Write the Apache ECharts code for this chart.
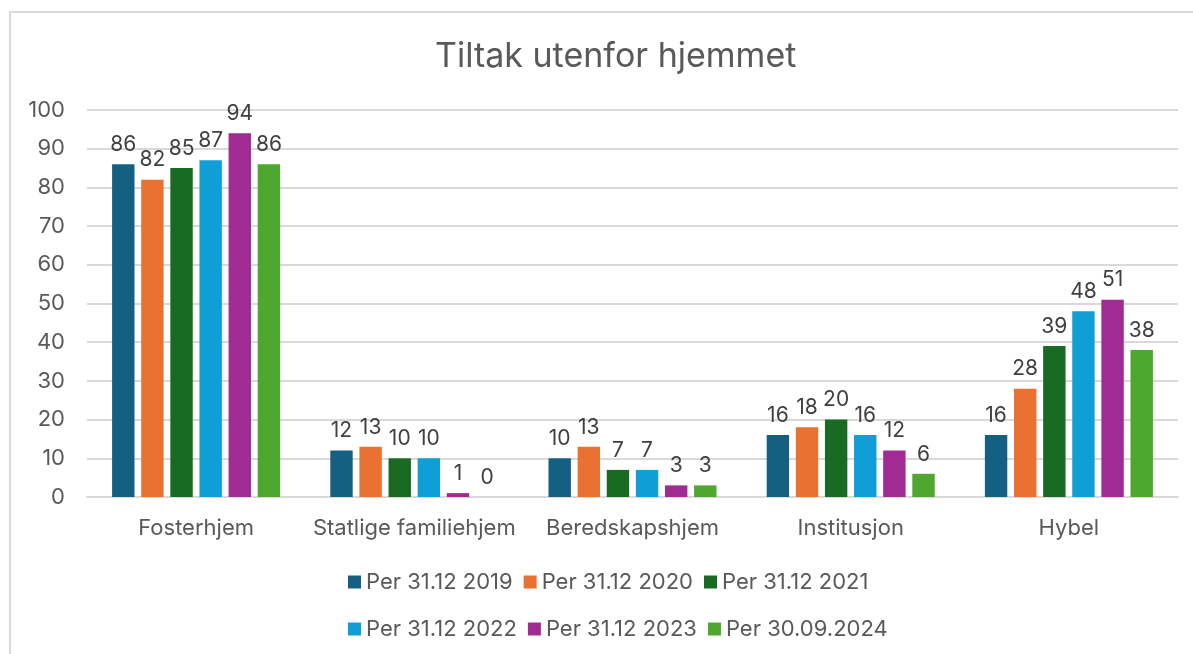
<!DOCTYPE html>
<html>
<head>
<meta charset="utf-8">
<script src="https://cdn.jsdelivr.net/npm/echarts@6/dist/echarts.min.js"></script>
<style>
  html, body { margin: 0; padding: 0; background: #fff; }
  #chart { width: 1193px; height: 654px; }
</style>
</head>
<body>
<div id="chart"></div>
<script>
// categories on the x axis
const categories = ["Fosterhjem", "Statlige familiehjem", "Beredskapshjem", "Institusjon", "Hybel"];
const seriesNames = ["Per 31.12 2019", "Per 31.12 2020", "Per 31.12 2021", "Per 31.12 2022", "Per 31.12 2023", "Per 30.09.2024"];
const colors = ["#156082", "#e97132", "#196b24", "#0f9ed5", "#a02b93", "#4ea72e"];

const per2019 = [86, 12, 10, 16, 16];
const per2020 = [82, 13, 13, 18, 28];
const per2021 = [85, 10, 7, 20, 39];
const per2022 = [87, 10, 7, 16, 48];
const per2023 = [94, 1, 3, 12, 51];
const per2024 = [86, 0, 3, 6, 38];

const values = [per2019, per2020, per2021, per2022, per2023, per2024];

const font = "Inter, 'Noto Sans', sans-serif";

var chart = echarts.init(document.getElementById("chart"));

function legendRow(names, top) {
  return {
    data: names,
    top: top,
    left: 343,
    itemWidth: 13,
    itemHeight: 13,
    itemGap: 11,
    icon: "rect",
    textStyle: { fontFamily: font, fontSize: 22, color: "#595959", padding: [0, 0, 0, 0] }
  };
}

chart.setOption({
  animation: false,
  color: colors,
  title: {
    text: "Tiltak utenfor hjemmet",
    left: 430,
    top: 35,
    textStyle: { fontFamily: font, fontSize: 34, fontWeight: "normal", color: "#595959" }
  },
  graphic: [
    {
      type: "rect",
      shape: { x: 10, y: 12, width: 1300, height: 700 },
      style: { fill: "none", stroke: "#d9d9d9", lineWidth: 2 },
      z: -1
    }
  ],
  legend: [
    legendRow(seriesNames.slice(0, 3), 566),
    legendRow(seriesNames.slice(3), 613)
  ],
  grid: {
    left: 87,
    right: 15,
    top: 110,
    bottom: 157
  },
  xAxis: {
    type: "category",
    data: categories,
    axisLine: { lineStyle: { color: "#d9d9d9", width: 2 } },
    axisTick: { show: false },
    axisLabel: { interval: 0, fontFamily: font, fontSize: 22, color: "#595959", margin: 20 }
  },
  yAxis: {
    type: "value",
    min: 0,
    max: 100,
    interval: 10,
    axisLine: { show: false },
    axisTick: { show: false },
    splitLine: { lineStyle: { color: "#d9d9d9", width: 2 } },
    axisLabel: { fontFamily: font, fontSize: 22, color: "#595959", margin: 22 }
  },
  series: seriesNames.map(function (name, i) {
    return {
      name: name,
      type: "bar",
      data: values[i],
      barGap: "30%",
      barCategoryGap: "23%",
      label: {
        show: true,
        position: "top",
        distance: 9,
        fontFamily: font,
        fontSize: 21,
        color: "#404040"
      }
    };
  })
});
</script>
</body>
</html>
